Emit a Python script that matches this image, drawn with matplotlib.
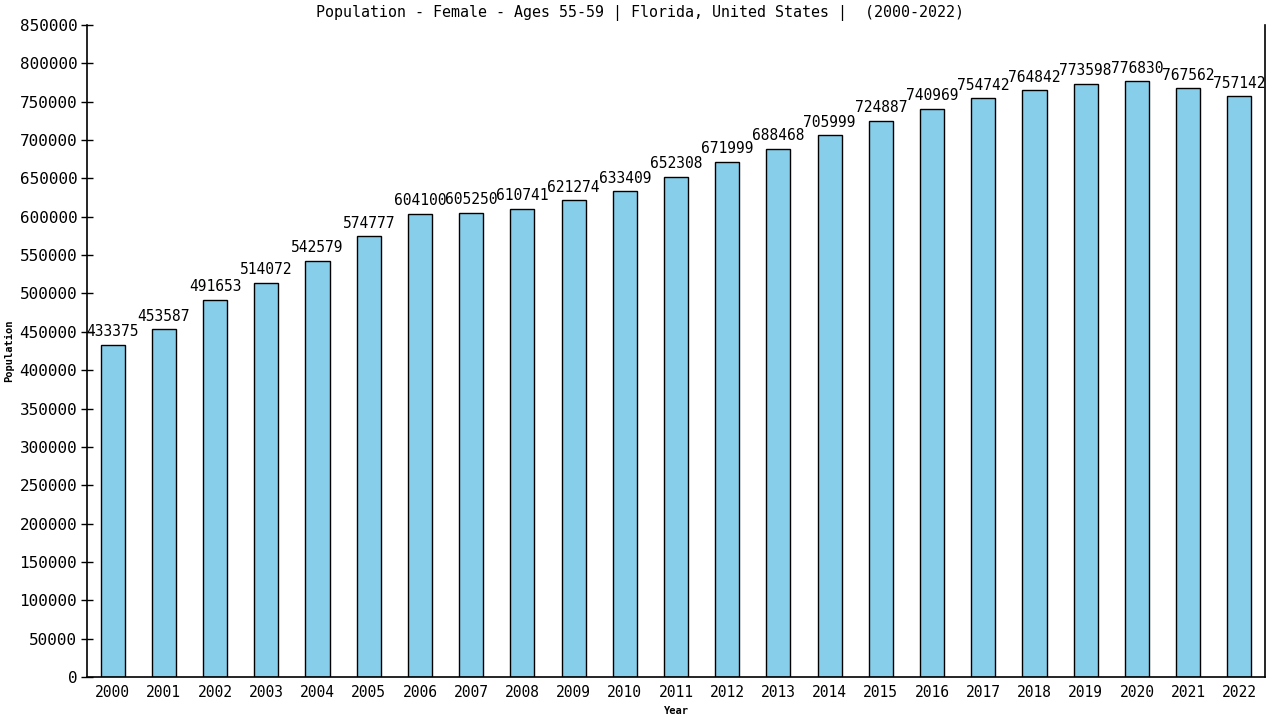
import matplotlib
matplotlib.use("Agg")
import matplotlib.pyplot as plt

years = [str(y) for y in range(2000, 2023)]
population = [433375, 453587, 491653, 514072, 542579, 574777, 604100, 605250,
              610741, 621274, 633409, 652308, 671999, 688468, 705999, 724887,
              740969, 754742, 764842, 773598, 776830, 767562, 757142]
yticks = list(range(0, 850001, 50000))

font = "DejaVu Sans Mono"
fig = plt.figure(figsize=(12.8, 7.2), dpi=100)
ax = fig.add_axes([87/1280, 1-677/720, (1265-87)/1280, (677-25)/720])

x = list(range(len(years)))
ax.bar(x, population, width=0.47, color="#87CEEB", edgecolor="black", linewidth=1)
for xi, v in zip(x, population):
    ax.annotate(str(v), (xi, v), xytext=(0, 4), textcoords="offset points",
                ha="center", va="bottom", fontsize=10.5, family=font)

ax.set_xlim(-0.5, 22.5)
ax.set_ylim(0, 850000)
ax.set_yticks(yticks)
ax.set_yticklabels([str(t) for t in yticks], family=font, fontsize=11.5)
ax.set_xticks(x)
ax.set_xticklabels(years, family=font, fontsize=10.5)
ax.tick_params(axis="x", length=0, pad=6)
ax.tick_params(axis="y", direction="inout", length=8, width=1, pad=3)
ax.spines["top"].set_visible(False)
for s in ["left", "right", "bottom"]:
    ax.spines[s].set_linewidth(1.2)

ax.set_ylabel("Population", family=font, fontsize=7.5, fontweight="bold", labelpad=4)
ax.set_xlabel("Year", family=font, fontsize=7.5, fontweight="bold", labelpad=4)
fig.text(0.5, 1-13/720, "Population - Female - Ages 55-59 | Florida, United States |  (2000-2022)",
         ha="center", va="center", family=font, fontsize=10.8)

fig.savefig("out.png", dpi=100)
